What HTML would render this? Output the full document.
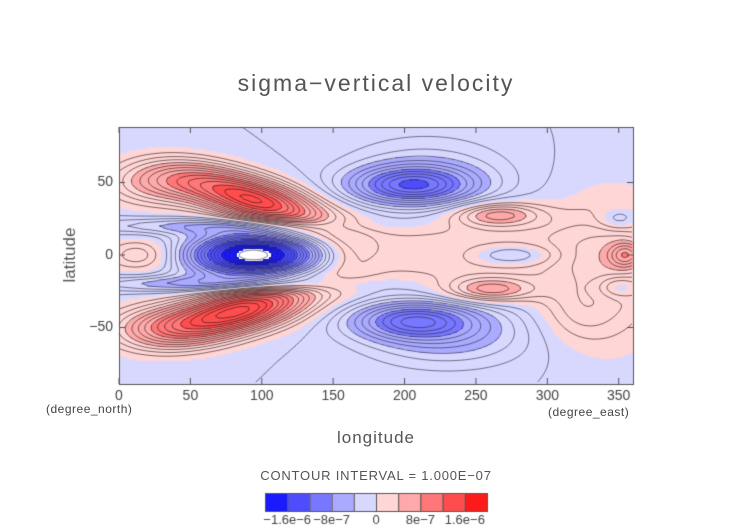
<!DOCTYPE html>
<html><head><meta charset="utf-8"><style>
html,body{margin:0;padding:0;background:#fff;}
#wrap{position:relative;width:752px;height:532px;font-family:"Liberation Sans",sans-serif;color:#444;}
.t{position:absolute;white-space:nowrap;}
</style></head><body>
<div id="wrap">
<div class="t" style="left:0;width:752px;top:70px;text-align:center;font-size:23px;letter-spacing:2px;color:#555;">sigma−vertical velocity</div>
<canvas id="cv" width="752" height="532" style="position:absolute;left:0;top:0;"></canvas>
<div class="t" style="left:0;width:752px;top:428px;text-align:center;font-size:17px;letter-spacing:1px;color:#555;">longitude</div>
<div class="t" style="left:46px;top:402px;font-size:12px;letter-spacing:0.5px;">(degree_north)</div>
<div class="t" style="left:548px;top:405px;font-size:12px;letter-spacing:0.5px;">(degree_east)</div>
<div class="t" style="left:0;width:752px;top:468px;text-align:center;font-size:13px;letter-spacing:0.8px;color:#555;">CONTOUR INTERVAL = 1.000E−07</div>
</div>
<script>
const lonTicks=[0,50,100,150,200,250,300,350];
const latTicks=[-50,0,50];
const levels=[-16,-12,-8,-4,0,4,8,12,16];
const levelColors=["#1a1aff","#4d4dff","#7777ff","#aaaaff","#d8d8ff","#ffd6d6","#ffaaaa","#ff7777","#ff4d4d","#ff1a1a"];
const cbLabels=["−1.6e−6","−8e−7","0","8e−7","1.6e−6"];
// blobs: lon, lat, amplitude (1e-7), sigma lon, sigma lat, tilt
const blobLon=[95,30,85,30,95,15,70,70,205,215,205,230,250,345,265,260,275,355,350,350,160,320];
const blobLat=[38,50,-38,-50,0,0,20,-20,48,55,-45,-55,2,-10,28,-24,0,0,25,-22,0,-40];
const blobAmp=[15,6,16,6,-21,4,-4,-5,-9,-3,-8,-4,3,3,6,6,-4,5,-3,-3,2,2];
const blobSx=[35,28,35,28,30,18,60,60,30,40,30,40,90,30,22,22,20,8,10,10,15,20];
const blobSy=[11,11,11,11,10,8,4,4,9,18,9,15,18,40,6,6,5,6,5,5,15,15];
const blobTilt=[-0.25,0,0.2,0,0,0,0,0,0,0,0,0,0,0,0,0,0,0,0,0,0,0];
const base=-1;
const X0=119,X1=633,Y0=127,Y1=384;
function xs(lon){return X0+(lon/360)*(X1-X0);}
function ys(lat){return 255-lat*1.45;}
function val(lon,lat){
  let v=base;
  for(let i=0;i<blobLon.length;i++){
    let c=blobLat[i]+blobTilt[i]*(lon-blobLon[i]);
    let dx=(lon-blobLon[i])/blobSx[i],dy=(lat-c)/blobSy[i];
    v+=blobAmp[i]*Math.exp(-0.5*(dx*dx+dy*dy));
  }
  return v;
}
function col(v){let i=0;while(i<levels.length&&v>=levels[i])i++;return levelColors[i];}
const cv=document.getElementById('cv');const g=cv.getContext('2d');
for(let y=Y0;y<Y1;y+=2){for(let x=X0;x<X1;x+=2){
  const lon=(x+1-X0)/(X1-X0)*360,lat=(255-(y+1))/1.45;
  const v=val(lon,lat);
  g.fillStyle=v<-19.5?"#ffffff":col(v);g.fillRect(x,y,2,2);
}}
const step=3;
for(let k=-20;k<=20;k++){
  if(k===0)continue;
  const L=k*1.0;
  g.strokeStyle=k<0?"rgba(30,30,50,0.7)":"rgba(40,20,20,0.75)";
  g.lineWidth=0.8;
  g.setLineDash(k<0?[4,2]:[]);
  g.beginPath();
  for(let y=Y0;y<Y1-step;y+=step){for(let x=X0;x<X1-step;x+=step){
    const f=(px,py)=>val((px-X0)/(X1-X0)*360,(255-py)/1.45);
    const a=f(x,y),b=f(x+step,y),c=f(x+step,y+step),d=f(x,y+step);
    const pts=[];
    if((a-L)*(b-L)<0)pts.push([x+step*(L-a)/(b-a),y]);
    if((b-L)*(c-L)<0)pts.push([x+step,y+step*(L-b)/(c-b)]);
    if((c-L)*(d-L)<0)pts.push([x+step*(1-(L-c)/(d-c)),y+step]);
    if((d-L)*(a-L)<0)pts.push([x,y+step*(1-(L-d)/(a-d))]);
    if(pts.length>=2){g.moveTo(pts[0][0],pts[0][1]);g.lineTo(pts[1][0],pts[1][1]);}
    if(pts.length===4){g.moveTo(pts[2][0],pts[2][1]);g.lineTo(pts[3][0],pts[3][1]);}
  }}
  g.stroke();
}
g.setLineDash([]);
g.strokeStyle="#555";g.lineWidth=1;g.strokeRect(X0+0.5,Y0+0.5,X1-X0,Y1-Y0);
g.fillStyle="#444";g.font="14px 'Liberation Sans',sans-serif";g.textAlign="center";g.textBaseline="top";
lonTicks.forEach(t=>{const x=xs(t);g.beginPath();g.moveTo(x,Y1);g.lineTo(x,Y1-6);g.moveTo(x,Y0);g.lineTo(x,Y0+6);g.stroke();g.fillText(String(t),x,389);});
g.textAlign="right";g.textBaseline="middle";
latTicks.forEach(t=>{const y=ys(t);g.beginPath();g.moveTo(X0,y);g.lineTo(X0+6,y);g.moveTo(X1,y);g.lineTo(X1-6,y);g.stroke();g.fillText(t<0?"−"+(-t):String(t),X0-6,y);});
g.save();g.translate(70,255);g.rotate(-Math.PI/2);g.textAlign="center";g.font="17px 'Liberation Sans',sans-serif";g.fillStyle="#555";g.fillText("latitude",0,0);g.restore();
const cbx=265,cbw=222,cby=493,cbh=18;
levelColors.forEach((c,i)=>{g.fillStyle=c;g.fillRect(cbx+i*cbw/10,cby,cbw/10,cbh);g.strokeStyle="#555";g.strokeRect(cbx+i*cbw/10+0.5,cby+0.5,cbw/10,cbh);});
g.fillStyle="#444";g.font="13px 'Liberation Sans',sans-serif";g.textAlign="center";g.textBaseline="top";
[1,3,5,7,9].forEach((p,i)=>{g.fillText(cbLabels[i],cbx+p*cbw/10,514);});
</script>
</body></html>
